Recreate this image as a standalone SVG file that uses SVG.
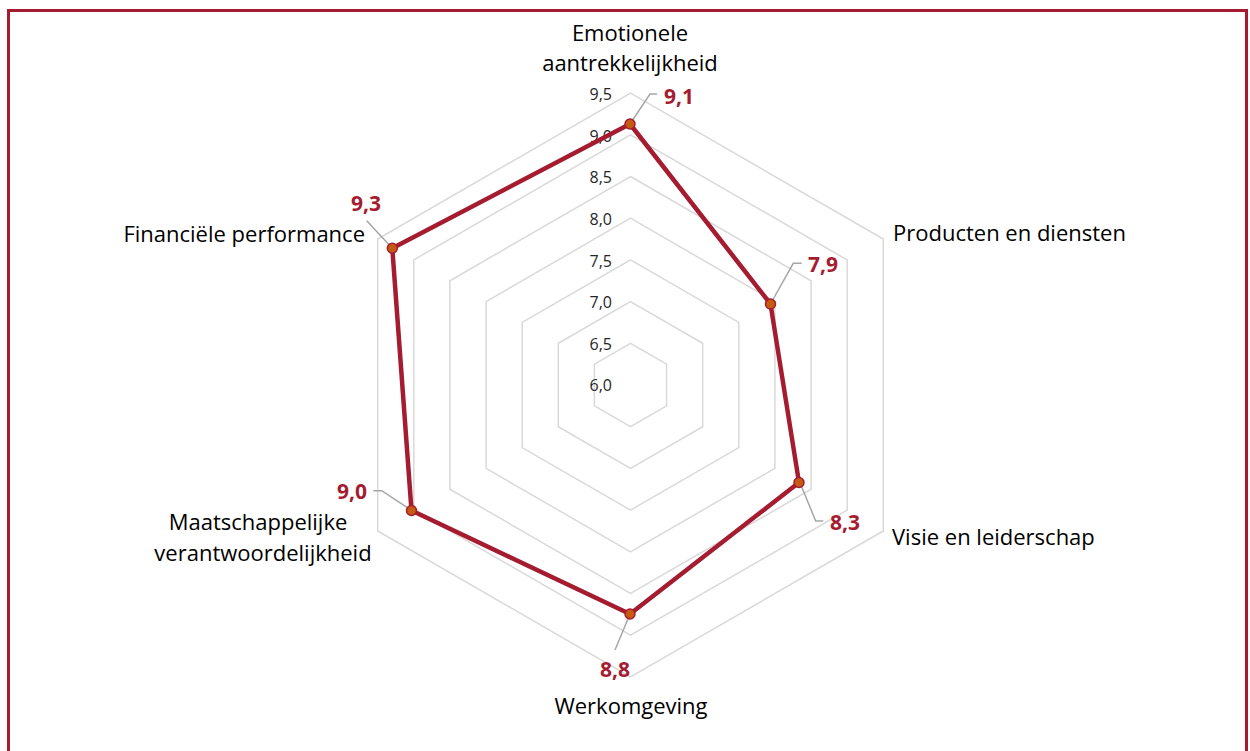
<svg xmlns="http://www.w3.org/2000/svg" width="1250" height="751" viewBox="0 0 1250 751">
<defs>
<style>
.grid{fill:none;stroke:#d9d9d9;stroke-width:1.5}
.tick{font-family:"Open Sans","Liberation Sans",sans-serif;font-size:16px;fill:#262626;text-anchor:end}
.cat{font-family:"Open Sans","Liberation Sans",sans-serif;font-size:22px;fill:#000}
.val{font-family:"Open Sans","Liberation Sans",sans-serif;font-size:21px;font-weight:bold;fill:#A51C30}
.lead{fill:none;stroke:#a6a6a6;stroke-width:1.5}
.series{fill:none;stroke:#A51C30;stroke-width:4.5;stroke-linejoin:round}
.pt{fill:#C55A11;stroke:#A51C30;stroke-width:1.5}
</style>
</defs>
<rect x="0" y="0" width="1250" height="751" fill="#fff"/>
<rect x="8.5" y="10.5" width="1238" height="760" fill="none" stroke="#A51C30" stroke-width="3"/>

<g id="grid">
<polygon class="grid" points="630.5,343.3 666.6,364.15 666.6,405.85 630.5,426.7 594.4,405.85 594.4,364.15"/>
<polygon class="grid" points="630.5,301.6 702.7,343.3 702.7,426.7 630.5,468.4 558.3,426.7 558.3,343.3"/>
<polygon class="grid" points="630.5,259.9 738.8,322.45 738.8,447.55 630.5,510.1 522.2,447.55 522.2,322.45"/>
<polygon class="grid" points="630.5,218.2 774.9,301.6 774.9,468.4 630.5,551.8 486.1,468.4 486.1,301.6"/>
<polygon class="grid" points="630.5,176.5 811.1,280.75 811.1,489.25 630.5,593.5 449.9,489.25 449.9,280.75"/>
<polygon class="grid" points="630.5,134.8 847.2,259.9 847.2,510.1 630.5,635.2 413.8,510.1 413.8,259.9"/>
<polygon class="grid" points="630.5,93.1 883.3,239.05 883.3,530.95 630.5,676.9 377.7,530.95 377.7,239.05"/>
</g>

<g id="ticks">
<text class="tick" x="612" y="100">9,5</text>
<text class="tick" x="612" y="142">9,0</text>
<text class="tick" x="612" y="183">8,5</text>
<text class="tick" x="612" y="225">8,0</text>
<text class="tick" x="612" y="267">7,5</text>
<text class="tick" x="612" y="308">7,0</text>
<text class="tick" x="612" y="350">6,5</text>
<text class="tick" x="612" y="391">6,0</text>
</g>

<g id="connectors">
<polygon class="series" points="630,124 770.5,304 799,482.5 630,614 411.5,510.5 392.3,248.3"/>
<polyline class="lead" points="630,124 650,94 657,94"/>
<polyline class="lead" points="771,303 793.3,263.3 801.7,263.3"/>
<polyline class="lead" points="392.3,248.3 366.7,220.7"/>
<polyline class="lead" points="410,509.3 381.7,490.7 373.3,490.7"/>
<polyline class="lead" points="630,614 615,650"/>
<polyline class="lead" points="800,482.7 815.7,521 823.3,521"/>
</g>

<g id="points">
<circle class="pt" cx="630" cy="124" r="5"/>
<circle class="pt" cx="770.5" cy="304" r="5"/>
<circle class="pt" cx="799" cy="482.5" r="5"/>
<circle class="pt" cx="630" cy="614" r="5"/>
<circle class="pt" cx="411.5" cy="510.5" r="5"/>
<circle class="pt" cx="392.3" cy="248.3" r="5"/>
</g>

<g id="node-emotionele">
<text class="cat" x="630" y="41" text-anchor="middle">Emotionele</text>
<text class="cat" x="630" y="71" text-anchor="middle">aantrekkelijkheid</text>
<text class="val" x="664" y="104">9,1</text>
</g>
<g id="node-producten">
<text class="cat" x="893" y="241">Producten en diensten</text>
<text class="val" x="808" y="272">7,9</text>
</g>
<g id="node-visie">
<text class="cat" x="892" y="545">Visie en leiderschap</text>
<text class="val" x="830" y="530">8,3</text>
</g>
<g id="node-werkomgeving">
<text class="cat" x="631" y="714" text-anchor="middle">Werkomgeving</text>
<text class="val" x="615" y="677" text-anchor="middle">8,8</text>
</g>
<g id="node-maatschappelijke">
<text class="cat" x="258" y="530" text-anchor="middle">Maatschappelijke</text>
<text class="cat" x="263" y="561" text-anchor="middle">verantwoordelijkheid</text>
<text class="val" x="367" y="499" text-anchor="end">9,0</text>
</g>
<g id="node-financiele">
<text class="cat" x="365" y="242" text-anchor="end">Financiële performance</text>
<text class="val" x="366" y="211" text-anchor="middle">9,3</text>
</g>
</svg>
